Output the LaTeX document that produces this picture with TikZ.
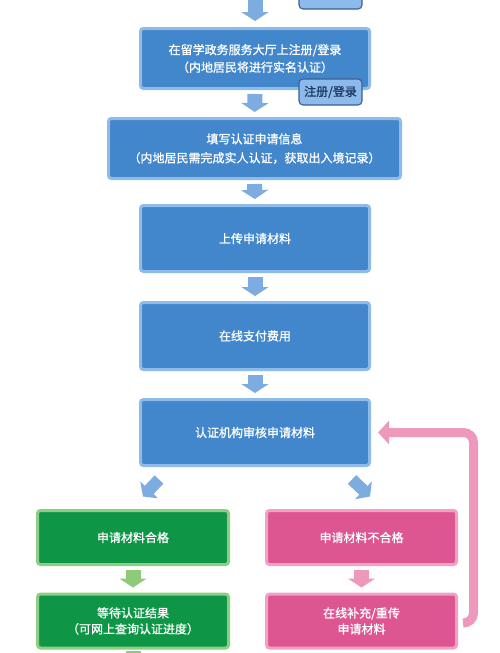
\documentclass[tikz,border=0pt]{standalone}
\usepackage{fontspec}
\setmainfont{Noto Sans CJK SC}
\newfontfamily\boxfont{Noto Sans CJK SC}[FakeBold=1.0]
\usetikzlibrary{arrows.meta,calc}
\definecolor{bfill}{RGB}{66,134,203}
\definecolor{bborder}{RGB}{143,187,232}
\definecolor{barrowc}{RGB}{124,172,224}
\definecolor{gfill}{RGB}{14,150,70}
\definecolor{gborder}{RGB}{140,206,132}
\definecolor{garrowc}{RGB}{142,202,122}
\definecolor{pfill}{RGB}{222,86,145}
\definecolor{pborder}{RGB}{240,162,196}
\definecolor{parrowc}{RGB}{238,152,188}
\definecolor{tagfill}{RGB}{140,186,234}
\definecolor{tagborder}{RGB}{58,96,146}
\definecolor{tagtext}{RGB}{30,56,100}
\tikzset{
  box/.style={rectangle, rounded corners=3pt, line width=3pt, inner sep=0pt,
    align=center, text=white, font=\boxfont\fontsize{12}{17.5}\selectfont},
  bluebox/.style={box, fill=bfill, draw=bborder, minimum width=229pt},
  greenbox/.style={box, fill=gfill, draw=gborder, minimum width=191pt, minimum height=54pt,
    font=\boxfont\fontsize{12}{16}\selectfont},
  pinkbox/.style={box, fill=pfill, draw=pborder, minimum width=190pt, minimum height=54pt,
    font=\boxfont\fontsize{12}{16}\selectfont},
  tag/.style={rectangle, rounded corners=4pt, fill=tagfill, draw=tagborder, line width=1.1pt,
    text=tagtext, minimum width=63pt, minimum height=26pt, inner sep=0pt,
    font=\boxfont\fontsize{12}{14}\selectfont},
  blockarrow/.style={line width=15pt, -{Triangle[width=27pt,length=9pt]},
    shorten <=4pt, shorten >=5pt},
  barrow/.style={blockarrow, draw=barrowc},
  garrow/.style={blockarrow, draw=garrowc},
  parrow/.style={blockarrow, draw=parrowc},
  diagarrow/.style={line width=12pt, draw=barrowc, -{Triangle[width=24pt,length=9pt]}},
  backarrow/.style={line width=9pt, draw=parrowc, rounded corners=10pt,
    -{Triangle[width=23pt,length=11pt]}, shorten <=6pt, shorten >=7pt}
}
\begin{document}
\begin{tikzpicture}[x=1pt,y=-1pt]
\useasboundingbox (0,0) rectangle (499,653);
\clip (0,0) rectangle (499,653);
\fill[white] (0,0) rectangle (499,653);

% nodes
\node[tag] (t0) at (330.5,-4) {};
\coordinate (prev) at (255,-12);
\node[bluebox, minimum height=60pt] (b1) at (255,58.5)
  {在留学政务服务大厅上注册/登录\\（内地居民将进行实名认证）};
\node[bluebox, minimum width=292pt, minimum height=60pt,
  font=\boxfont\fontsize{12}{19}\selectfont] (b2) at (254.5,148.5)
  {填写认证申请信息\\（内地居民需完成实人认证，获取出入境记录）};
\node[bluebox, minimum height=66pt] (b3) at (255,238.5) {上传申请材料};
\node[bluebox, minimum height=67pt] (b4) at (255,336) {在线支付费用};
\node[bluebox, minimum height=66pt] (b5) at (255,432.5) {认证机构审核申请材料};
\node[greenbox] (g1) at (133,537.5) {申请材料合格};
\node[greenbox] (g2) at (133,621) {等待认证结果\\（可网上查询认证进度）};
\node[pinkbox] (p1) at (361.5,537.5) {申请材料不合格};
\node[pinkbox] (p2) at (361.5,621) {在线补充/重传\\申请材料};
\coordinate (gnext) at (133,690);

% connectors
\draw[barrow, shorten <=0pt, shorten >=6pt] (prev) -- (b1.north);
\draw[barrow] (b1.south) -- (b2.north);
\node[tag] (t1) at (330.5,92) {注册/登录};
\draw[barrow] (b2.south) -- (b3.north);
\draw[barrow] (b3.south) -- (b4.north);
\draw[barrow] (b4.south) -- (b5.north);
\draw[diagarrow] ([xshift=-96pt,yshift=-12.5pt]b5.south) -- ([xshift=10pt,yshift=12.5pt]g1.north);
\draw[diagarrow] ([xshift=97pt,yshift=-12.5pt]b5.south) -- ([xshift=8.5pt,yshift=12.5pt]p1.north);
\draw[garrow] (g1.south) -- (g2.north);
\draw[parrow] (p1.south) -- (p2.north);
\draw[garrow, shorten <=1pt] (g2.south) -- (gnext);
\draw[backarrow] ([yshift=-2pt]p2.east) -| ([xshift=102.5pt]b5.east) -- (b5.east);
\end{tikzpicture}
\end{document}
